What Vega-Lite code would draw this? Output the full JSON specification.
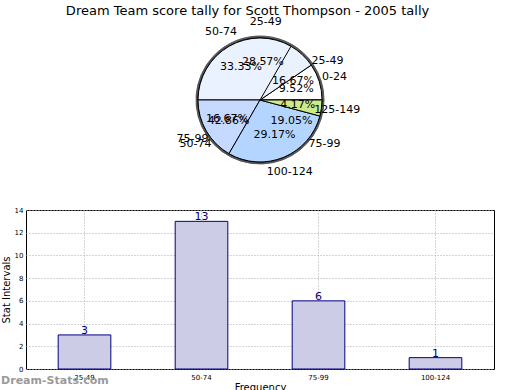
{
  "$schema": "https://vega.github.io/schema/vega-lite/v6.json",
  "padding": {"left": 0, "top": 5, "right": 0, "bottom": 0},
  "background": "white",
  "title": {"text": "Dream Team score tally for Scott Thompson - 2005 tally", "font": "DejaVu Sans", "fontSize": 13, "fontWeight": "normal", "color": "#000", "anchor": "middle", "offset": -2},
  "datasets": {
    "pie": [
      {"series": "A", "label": "25-49", "idx": 0, "share": 0.1667},
      {"series": "A", "label": "50-74", "idx": 1, "share": 0.3333},
      {"series": "A", "label": "75-99", "idx": 2, "share": 0.1667},
      {"series": "A", "label": "100-124", "idx": 3, "share": 0.2917},
      {"series": "A", "label": "125-149", "idx": 4, "share": 0.0417},
      {"series": "B", "label": "0-24", "idx": 0, "share": 0.0952},
      {"series": "B", "label": "25-49", "idx": 1, "share": 0.2857},
      {"series": "B", "label": "50-74", "idx": 2, "share": 0.4286},
      {"series": "B", "label": "75-99", "idx": 3, "share": 0.1905}
    ],
    "bars": [
      {"interval": "25-49", "freq": 3},
      {"interval": "50-74", "freq": 13},
      {"interval": "75-99", "freq": 6},
      {"interval": "100-124", "freq": 1}
    ]
  },
  "config": {
    "font": "DejaVu Sans",
    "view": {"stroke": null}
  },
  "spacing": 23,
  "vconcat": [
    {
      "width": 468,
      "height": 164,
      "data": {"name": "pie"},
      "encoding": {
        "theta": {"field": "share", "type": "quantitative", "stack": "normalize", "scale": {"range": [1.5708, -4.7124]}},
        "order": {"field": "idx", "type": "ordinal"}
      },
      "layer": [
        {
          "transform": [{"filter": "datum.series === 'B'"}],
          "mark": {"type": "arc", "outerRadius": 64, "fill": "#555555", "stroke": "#555555"},
          "encoding": {}
        },
        {
          "transform": [{"filter": "datum.series === 'B'"}],
          "mark": {"type": "arc", "outerRadius": 62, "stroke": "#000000", "strokeWidth": 1},
          "encoding": {
            "color": {"field": "idx", "type": "ordinal", "scale": {"domain": [0, 1, 2, 3, 4], "range": ["#ffffff", "#eaf1ff", "#c6d9ff", "#b4d5ff", "#ccea8a"]}, "legend": null}
          }
        },
        {
          "transform": [{"filter": "datum.series === 'A'"}],
          "mark": {"type": "arc", "outerRadius": 62, "stroke": "#000000", "strokeWidth": 1},
          "encoding": {
            "color": {"field": "idx", "type": "ordinal", "legend": null},
            "fillOpacity": {"condition": {"test": "datum.idx === 0", "value": 0}, "value": 1},
            "strokeOpacity": {"condition": {"test": "datum.idx === 0", "value": 0}, "value": 1}
          }
        },
        {
          "transform": [{"filter": "datum.series === 'A'"}],
          "mark": {"type": "text", "radius": 38, "fontSize": 11, "color": "#000"},
          "encoding": {"text": {"field": "share", "type": "quantitative", "format": ".2%"}}
        },
        {
          "transform": [{"filter": "datum.series === 'B'"}],
          "mark": {"type": "text", "radius": 38, "fontSize": 11, "color": "#000"},
          "encoding": {"text": {"field": "share", "type": "quantitative", "format": ".2%"}}
        },
        {
          "transform": [{"filter": "datum.series === 'A'"}],
          "mark": {"type": "text", "radius": 78, "fontSize": 11, "color": "#000"},
          "encoding": {"text": {"field": "label", "type": "nominal"}}
        },
        {
          "transform": [{"filter": "datum.series === 'B'"}],
          "mark": {"type": "text", "radius": 78, "fontSize": 11, "color": "#000"},
          "encoding": {"text": {"field": "label", "type": "nominal"}}
        }
      ]
    },
    {
      "width": 468,
      "height": 159,
      "data": {"name": "bars"},
      "title": {"text": "Dream-Stats.com", "orient": "bottom", "anchor": "start", "frame": "bounds", "fontSize": 11, "fontWeight": "bold", "color": "#9a9a9a", "offset": -17},
      "view": {"stroke": "#000000", "strokeWidth": 1},
      "encoding": {
        "x": {"field": "interval", "type": "nominal", "sort": null, "title": "Frequency",
          "scale": {"paddingInner": 0.55, "paddingOuter": 0.275},
          "axis": {"labelAngle": 0, "labelFontSize": 7, "ticks": false, "labelPadding": 4, "titleFontSize": 10, "titleFontWeight": "normal", "titlePadding": 2, "domain": false, "grid": true, "gridDash": [1, 2], "gridColor": "#aaaaaa", "labelColor": "#000", "titleColor": "#000"}},
        "y": {"field": "freq", "type": "quantitative", "title": "Stat Intervals",
          "scale": {"domain": [0, 14], "nice": false},
          "axis": {"values": [0, 2, 4, 6, 8, 10, 12, 14], "labelFontSize": 7, "ticks": false, "labelPadding": 3, "titleFontSize": 10, "titleFontWeight": "normal", "titlePadding": 3, "domain": false, "grid": true, "gridDash": [1, 2], "gridColor": "#aaaaaa", "labelColor": "#000", "titleColor": "#000"}}
      },
      "layer": [
        {"mark": {"type": "bar", "fill": "#cccce6", "stroke": "#000080", "strokeWidth": 1}},
        {"mark": {"type": "text", "baseline": "bottom", "dy": 1, "fontSize": 11, "color": "#000080"},
          "encoding": {"text": {"field": "freq", "type": "quantitative"}}}
      ]
    }
  ]
}
